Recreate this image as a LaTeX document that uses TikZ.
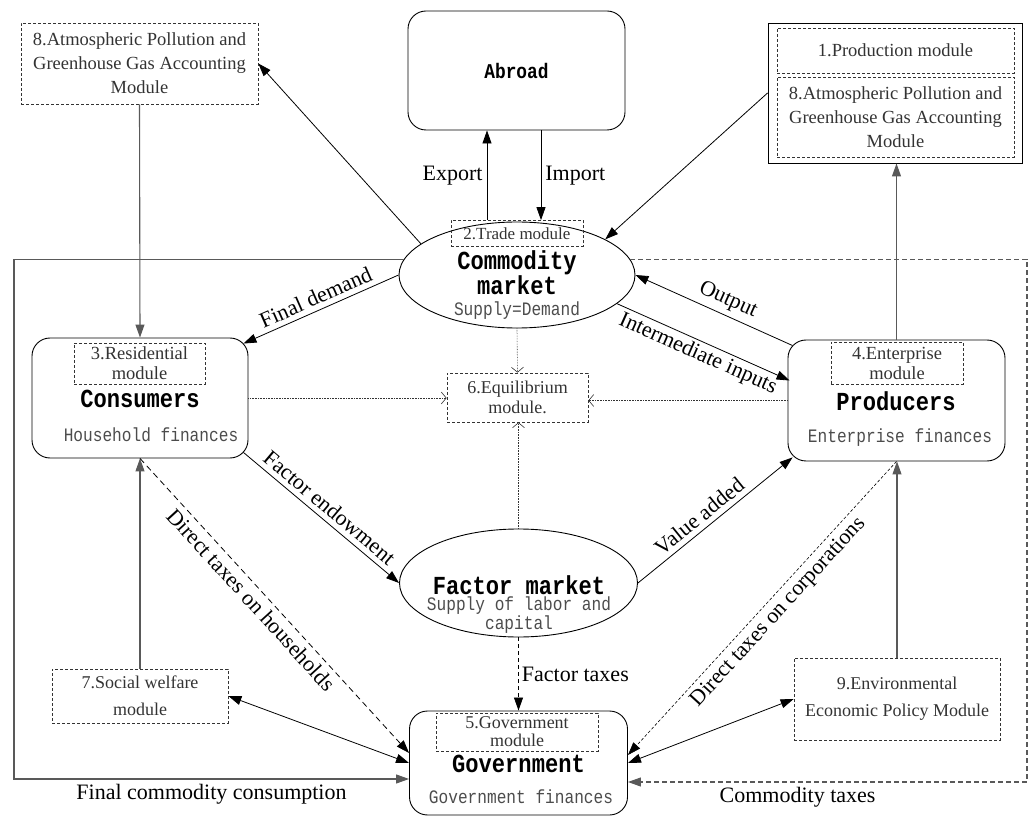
\documentclass[tikz,border=0pt]{standalone}
\usepackage{fontspec}
\setmainfont{Liberation Serif}
\newfontfamily\monof[FakeStretch=0.85]{Liberation Mono}
\usetikzlibrary{arrows.meta,shapes.geometric,calc}
\begin{document}
\begin{tikzpicture}[x=1pt,y=-1pt,
  mainbox/.style={draw, rounded corners=18pt, line width=0.9pt, inner sep=0pt},
  modbox/.style={draw=black!80, dash pattern=on 3pt off 2pt, line width=0.7pt, inner sep=0pt, align=center, text=black!80},
  ell/.style={draw, ellipse, line width=0.9pt, inner sep=0pt},
  lbl/.style={font=\fontsize{22}{24}\selectfont, inner sep=5pt},
  bigt/.style={font=\monof\bfseries\fontsize{26}{25}\selectfont, inner sep=0pt, align=center},
  subt/.style={font=\monof\fontsize{19}{17}\selectfont, text=black!70, inner sep=0pt, align=center},
  arr/.style={-{Triangle[length=13pt,width=9pt]}, line width=0.8pt},
  darr/.style={{Triangle[length=13pt,width=9pt]}-{Triangle[length=13pt,width=9pt]}, line width=0.8pt},
  garr/.style={-{Triangle[length=13pt,width=9pt]}, line width=1.1pt, draw=black!65},
  eqarr/.style={-{Straight Barb[length=5pt,width=12pt]}, line width=0.6pt, densely dotted, draw=black!80},
  dasharr/.style={arr, dash pattern=on 4pt off 3pt}
]
\useasboundingbox (0,0) rectangle (1029,818);

% modules top
\node[modbox, minimum width=237pt, minimum height=81pt, font=\fontsize{18.5}{24}\selectfont] (m8L) at (139.5,63.5) {8.Atmospheric Pollution and\\Greenhouse Gas Accounting\\Module};
\node[draw, line width=0.9pt, minimum width=254pt, minimum height=140pt, inner sep=0pt] (outR) at (895,93) {};
\node[modbox, minimum width=237pt, minimum height=45pt, font=\fontsize{18.5}{20}\selectfont] (m1) at (895.5,50.5) {1.Production module};
\node[modbox, minimum width=237pt, minimum height=80pt, font=\fontsize{18.5}{24}\selectfont] (m8R) at (895.5,117) {8.Atmospheric Pollution and\\Greenhouse Gas Accounting\\Module};

% Abroad
\node[mainbox, minimum width=217pt, minimum height=119pt, font=\monof\bfseries\fontsize{21}{22}\selectfont] (abroad) at (516.5,70.5) {Abroad};

% Commodity market
\node[ell, minimum width=236pt, minimum height=106pt] (comm) at (517,275) {};
\node[modbox, minimum width=132pt, minimum height=26pt, font=\fontsize{17}{18}\selectfont] (trade) at (517,233.5) {2.Trade module};
\node[bigt] (commT) at (517,273) {Commodity\\market};
\node[subt] (commS) at (517,311) {Supply=Demand};

% Consumers
\node[mainbox, minimum width=216pt, minimum height=120pt] (cons) at (140,398) {};
\node[modbox, minimum width=131pt, minimum height=41pt, font=\fontsize{18.5}{20}\selectfont] (m3) at (139.5,363.5) {3.Residential\\module};
\node[bigt] (consT) at (140,399) {Consumers};
\node[subt] (consS) at (151,435) {Household finances};

% Producers
\node[mainbox, minimum width=217pt, minimum height=121pt] (prod) at (896.5,400.5) {};
\node[modbox, minimum width=132pt, minimum height=42pt, font=\fontsize{18.5}{20}\selectfont] (m4) at (897,363) {4.Enterprise\\module};
\node[bigt] (prodT) at (896,401) {Producers};
\node[subt] (prodS) at (900,438) {Enterprise finances};

% Equilibrium
\node[modbox, minimum width=141pt, minimum height=49pt, font=\fontsize{18}{20}\selectfont] (eq) at (517.5,397.5) {6.Equilibrium\\module.};

% Factor market
\node[ell, minimum width=238pt, minimum height=108pt] (fact) at (518.5,583) {};
\node[bigt] (factT) at (519,585) {Factor market};
\node[subt] (factS) at (519,615) {Supply of labor and\\capital};

% Government
\node[mainbox, minimum width=218pt, minimum height=104pt] (gov) at (518.5,763) {};
\node[modbox, minimum width=162pt, minimum height=38pt, font=\fontsize{18}{18}\selectfont] (m5) at (517,732) {5.Government\\module};
\node[bigt] (govT) at (518.5,764) {Government};
\node[subt] (govS) at (521,797) {Government finances};

% side modules
\node[modbox, minimum width=176pt, minimum height=54pt, font=\fontsize{18}{27}\selectfont] (m7) at (140,696) {7.Social welfare\\module};
\node[modbox, minimum width=206pt, minimum height=82pt, font=\fontsize{18}{27}\selectfont] (m9) at (897,699) {9.Environmental\\Economic Policy Module};

% helper coordinates
\coordinate (ex) at (487,0);
\coordinate (im) at (541,0);
\coordinate (LL) at (14,779);
\coordinate (RR) at (1027,782);

% connectors
\draw[arr] (trade.north -| ex) -- node[lbl,left,inner sep=4pt]{Export} (abroad.south -| ex);
\draw[arr] (abroad.south -| im) -- node[lbl,right,inner sep=4pt]{Import} (trade.north -| im);
\draw[arr] (comm.162) -- (m8L.east);
\draw[arr] (outR.west) -- (comm.22);
\draw[garr] (m8L.south) -- (cons.north);
\draw[garr] (prod.north) -- (prod.north |- outR.south);
\draw[arr] (comm.west) -- node[lbl,sloped,above]{Final demand} ($(cons.north east)+(-5,6)$);
\draw[arr] ($(prod.north west)+(5,6)$) -- node[lbl,sloped,above,pos=0.45]{Output} (comm.east);
\draw[arr] (comm.-16) -- node[lbl,sloped,below,inner sep=3pt]{Intermediate inputs} ($(prod.west)+(2,-20)$);
\draw[arr] ($(cons.south east)+(-5,-6)$) -- node[lbl,sloped,above]{Factor endowment} (fact.west);
\draw[arr] (fact.east) -- node[lbl,sloped,above,pos=0.45]{Value added} ($(prod.south west)+(5,-4)$);
\draw[eqarr] (comm.south) -- (eq.north);
\draw[eqarr] (fact.north) -- (fact.north |- eq.south);
\draw[eqarr] (cons.east) -- (cons.east -| eq.west);
\draw[eqarr] (prod.west) -- (prod.west -| eq.east);
\draw[dasharr] (fact.south) -- node[lbl,right,inner sep=3pt]{Factor taxes} (fact.south |- gov.north);
\draw[garr] (m7.north) -- (cons.south);
\draw[darr] (m7.east) -- (gov.west);
\draw[arr, dash pattern=on 6pt off 4pt] (cons.south) -- node[lbl,sloped,below,pos=0.45]{Direct taxes on households} ($(gov.west)+(0,-10)$);
\draw[garr] (m9.north) -- (m9.north |- prod.south);
\draw[darr] (m9.west) -- (gov.east);
\draw[arr, dash pattern=on 3pt off 2pt, line width=0.6pt] (prod.south) -- node[lbl,sloped,below,pos=0.48]{Direct taxes on corporations} ($(gov.east)+(0,-8)$);
\draw[garr] (comm.172) -| (LL) -- node[lbl,below]{Final commodity consumption} (gov.west |- LL);
\draw[garr, dash pattern=on 5pt off 3pt] (comm.8) -| (RR) -- node[lbl,below,pos=0.575]{Commodity taxes} (gov.east |- RR);
\end{tikzpicture}
\end{document}
